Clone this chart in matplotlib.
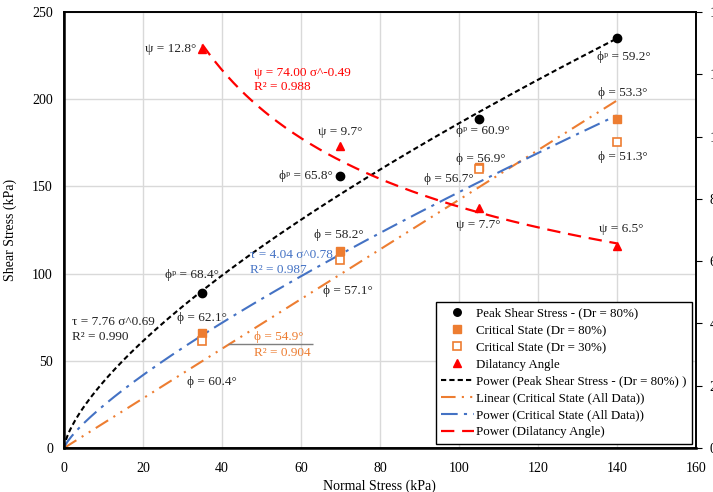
import numpy as np
import matplotlib
matplotlib.use("Agg")
import matplotlib.pyplot as plt

plt.rcParams['font.family'] = ['Liberation Serif', 'DejaVu Sans']
plt.rcParams['font.size'] = 9.5

# normal stress levels (kPa)
sigma = [35, 70, 105, 140]

# shear stress (kPa)
peak_dr80 = [89, 156, 188.6, 235]
crit_dr80 = [66, 113, 161, 188.6]
crit_dr30 = [61.4, 108, 160, 175.4]

# dilatancy angle (deg), right axis
psi = [12.8, 9.7, 7.7, 6.5]

# trendline parameters as printed on the chart
peak_a, peak_b = 7.76, 0.69
crit_a, crit_b = 4.04, 0.78
lin_phi = 54.9
psi_a, psi_b = 74.00, -0.49

# labels next to points: (x, y, text, ha)
point_labels = [
    (33.5, 229, 'ψ = 12.8°', 'right'),
    (70, 181, 'ψ = 9.7°', 'center'),
    (105, 128, 'ψ = 7.7°', 'center'),
    (141, 125.6, 'ψ = 6.5°', 'center'),
    (68, 156, 'ϕᵖ = 65.8°', 'right'),
    (32.5, 99, 'ϕᵖ = 68.4°', 'center'),
    (106, 182, 'ϕᵖ = 60.9°', 'center'),
    (141.7, 224, 'ϕᵖ = 59.2°', 'center'),
    (35, 74.5, 'ϕ = 62.1°', 'center'),
    (37.5, 38, 'ϕ = 60.4°', 'center'),
    (69.5, 122, 'ϕ = 58.2°', 'center'),
    (72, 90, 'ϕ = 57.1°', 'center'),
    (105.5, 166, 'ϕ = 56.9°', 'center'),
    (97.4, 154, 'ϕ = 56.7°', 'center'),
    (141.5, 203.5, 'ϕ = 53.3°', 'center'),
    (141.5, 167, 'ϕ = 51.3°', 'center'),
]

orange = '#ED7D31'
blue = '#4472C4'
red = '#FF0000'

fig = plt.figure(figsize=(7.13, 4.92), dpi=100)
ax = fig.add_axes([0.0898, 0.0894, 0.886, 0.8862])
ax2 = ax.twinx()

# trendlines
x_fit = np.linspace(0, 140, 300)
x_psi = np.linspace(35, 140, 200)
ax.plot(x_fit, peak_a * x_fit ** peak_b, color='black', lw=1.5, dashes=(2.5, 1.5),
        label='Power (Peak Shear Stress - (Dr = 80%) )')
ax.plot(x_fit, np.tan(np.radians(lin_phi)) * x_fit, color=orange, lw=1.5,
        dashes=(7, 3, 1, 3, 1, 3), label='Linear (Critical State (All Data))')
ax.plot(x_fit, crit_a * x_fit ** crit_b, color=blue, lw=1.5,
        dashes=(8, 3, 1.5, 3), label='Power (Critical State (All Data))')
ax2.plot(x_psi, psi_a * x_psi ** psi_b, color=red, lw=1.6, dashes=(6, 3.5),
         label='Power (Dilatancy Angle)')

# data points
ax.plot(sigma, peak_dr80, 'o', color='black', ms=6, label='Peak Shear Stress - (Dr = 80%)')
ax.plot(sigma, crit_dr80, 's', color=orange, ms=6, label='Critical State (Dr = 80%)')
ax.plot(sigma, crit_dr30, 's', mfc='white', mec=orange, mew=1.2, ms=6,
        label='Critical State (Dr = 30%)')
ax2.plot(sigma, psi, '^', color=red, ms=6, label='Dilatancy Angle')

ax.set_xlim(0, 160)
ax.set_ylim(0, 250)
ax2.set_ylim(0, 14)
ax.set_xticks(np.arange(0, 161, 20))
ax.set_yticks(np.arange(0, 251, 50))
ax2.set_yticks(np.arange(0, 15, 2))
ax.grid(True, color='#D9D9D9', lw=1)
ax.set_axisbelow(True)
ax.tick_params(axis='x', length=0, labelsize=10, pad=10)
ax.tick_params(axis='y', length=0, labelsize=10, pad=8)
ax2.tick_params(axis='y', length=4, direction='out', labelsize=10, pad=6)
for sp in ax.spines.values():
    sp.set_linewidth(1.2)
for sp in ax2.spines.values():
    sp.set_linewidth(1.2)
ax.spines['left'].set_linewidth(1.8)
ax.spines['bottom'].set_linewidth(1.8)

ax.set_xlabel('Normal Stress (kPa)', fontsize=10, labelpad=3)
ax.set_ylabel('Shear Stress (kPa)', fontsize=10, labelpad=11)

# point labels
for x, y, s, ha in point_labels:
    ax.text(x, y, s, ha=ha, va='center', fontsize=9.5, color='#222222')

# trendline equations
ax.text(48, 215, 'ψ = 74.00 σ^-0.49', color=red, fontsize=9.5, va='center')
ax.text(48, 207, 'R² = 0.988', color=red, fontsize=9.5, va='center')
ax.text(2, 72, 'τ = 7.76 σ^0.69', color='#222222', fontsize=9.5, va='center')
ax.text(2, 63.7, 'R² = 0.990', color='#222222', fontsize=9.5, va='center')
ax.text(47, 110.6, 'τ = 4.04 σ^0.78', color=blue, fontsize=9.5, va='center')
ax.text(47, 102, 'R² = 0.987', color=blue, fontsize=9.5, va='center')
ax.text(48, 63.6, 'ϕ = 54.9°', color=orange, fontsize=9.5, va='center')
ax.text(48, 54.4, 'R² = 0.904', color=orange, fontsize=9.5, va='center')
ax.hlines(59.6, 41.6, 63, color='#7F7F7F', lw=1)

# legend in the wanted order
h1, l1 = ax.get_legend_handles_labels()
h2, l2 = ax2.get_legend_handles_labels()
hd = dict(zip(l1 + l2, h1 + h2))
order = ['Peak Shear Stress - (Dr = 80%)', 'Critical State (Dr = 80%)',
         'Critical State (Dr = 30%)', 'Dilatancy Angle',
         'Power (Peak Shear Stress - (Dr = 80%) )', 'Linear (Critical State (All Data))',
         'Power (Critical State (All Data))', 'Power (Dilatancy Angle)']
leg = ax2.legend([hd[k] for k in order], order, loc='lower right', fontsize=9.3,
                 frameon=True, fancybox=False, edgecolor='black', framealpha=1,
                 borderaxespad=0.3, handlelength=2.5, handletextpad=0.15,
                 labelspacing=0.38, borderpad=0.45, markerscale=0.9)
leg.get_frame().set_linewidth(1.0)

fig.savefig('out.png', dpi=100)
